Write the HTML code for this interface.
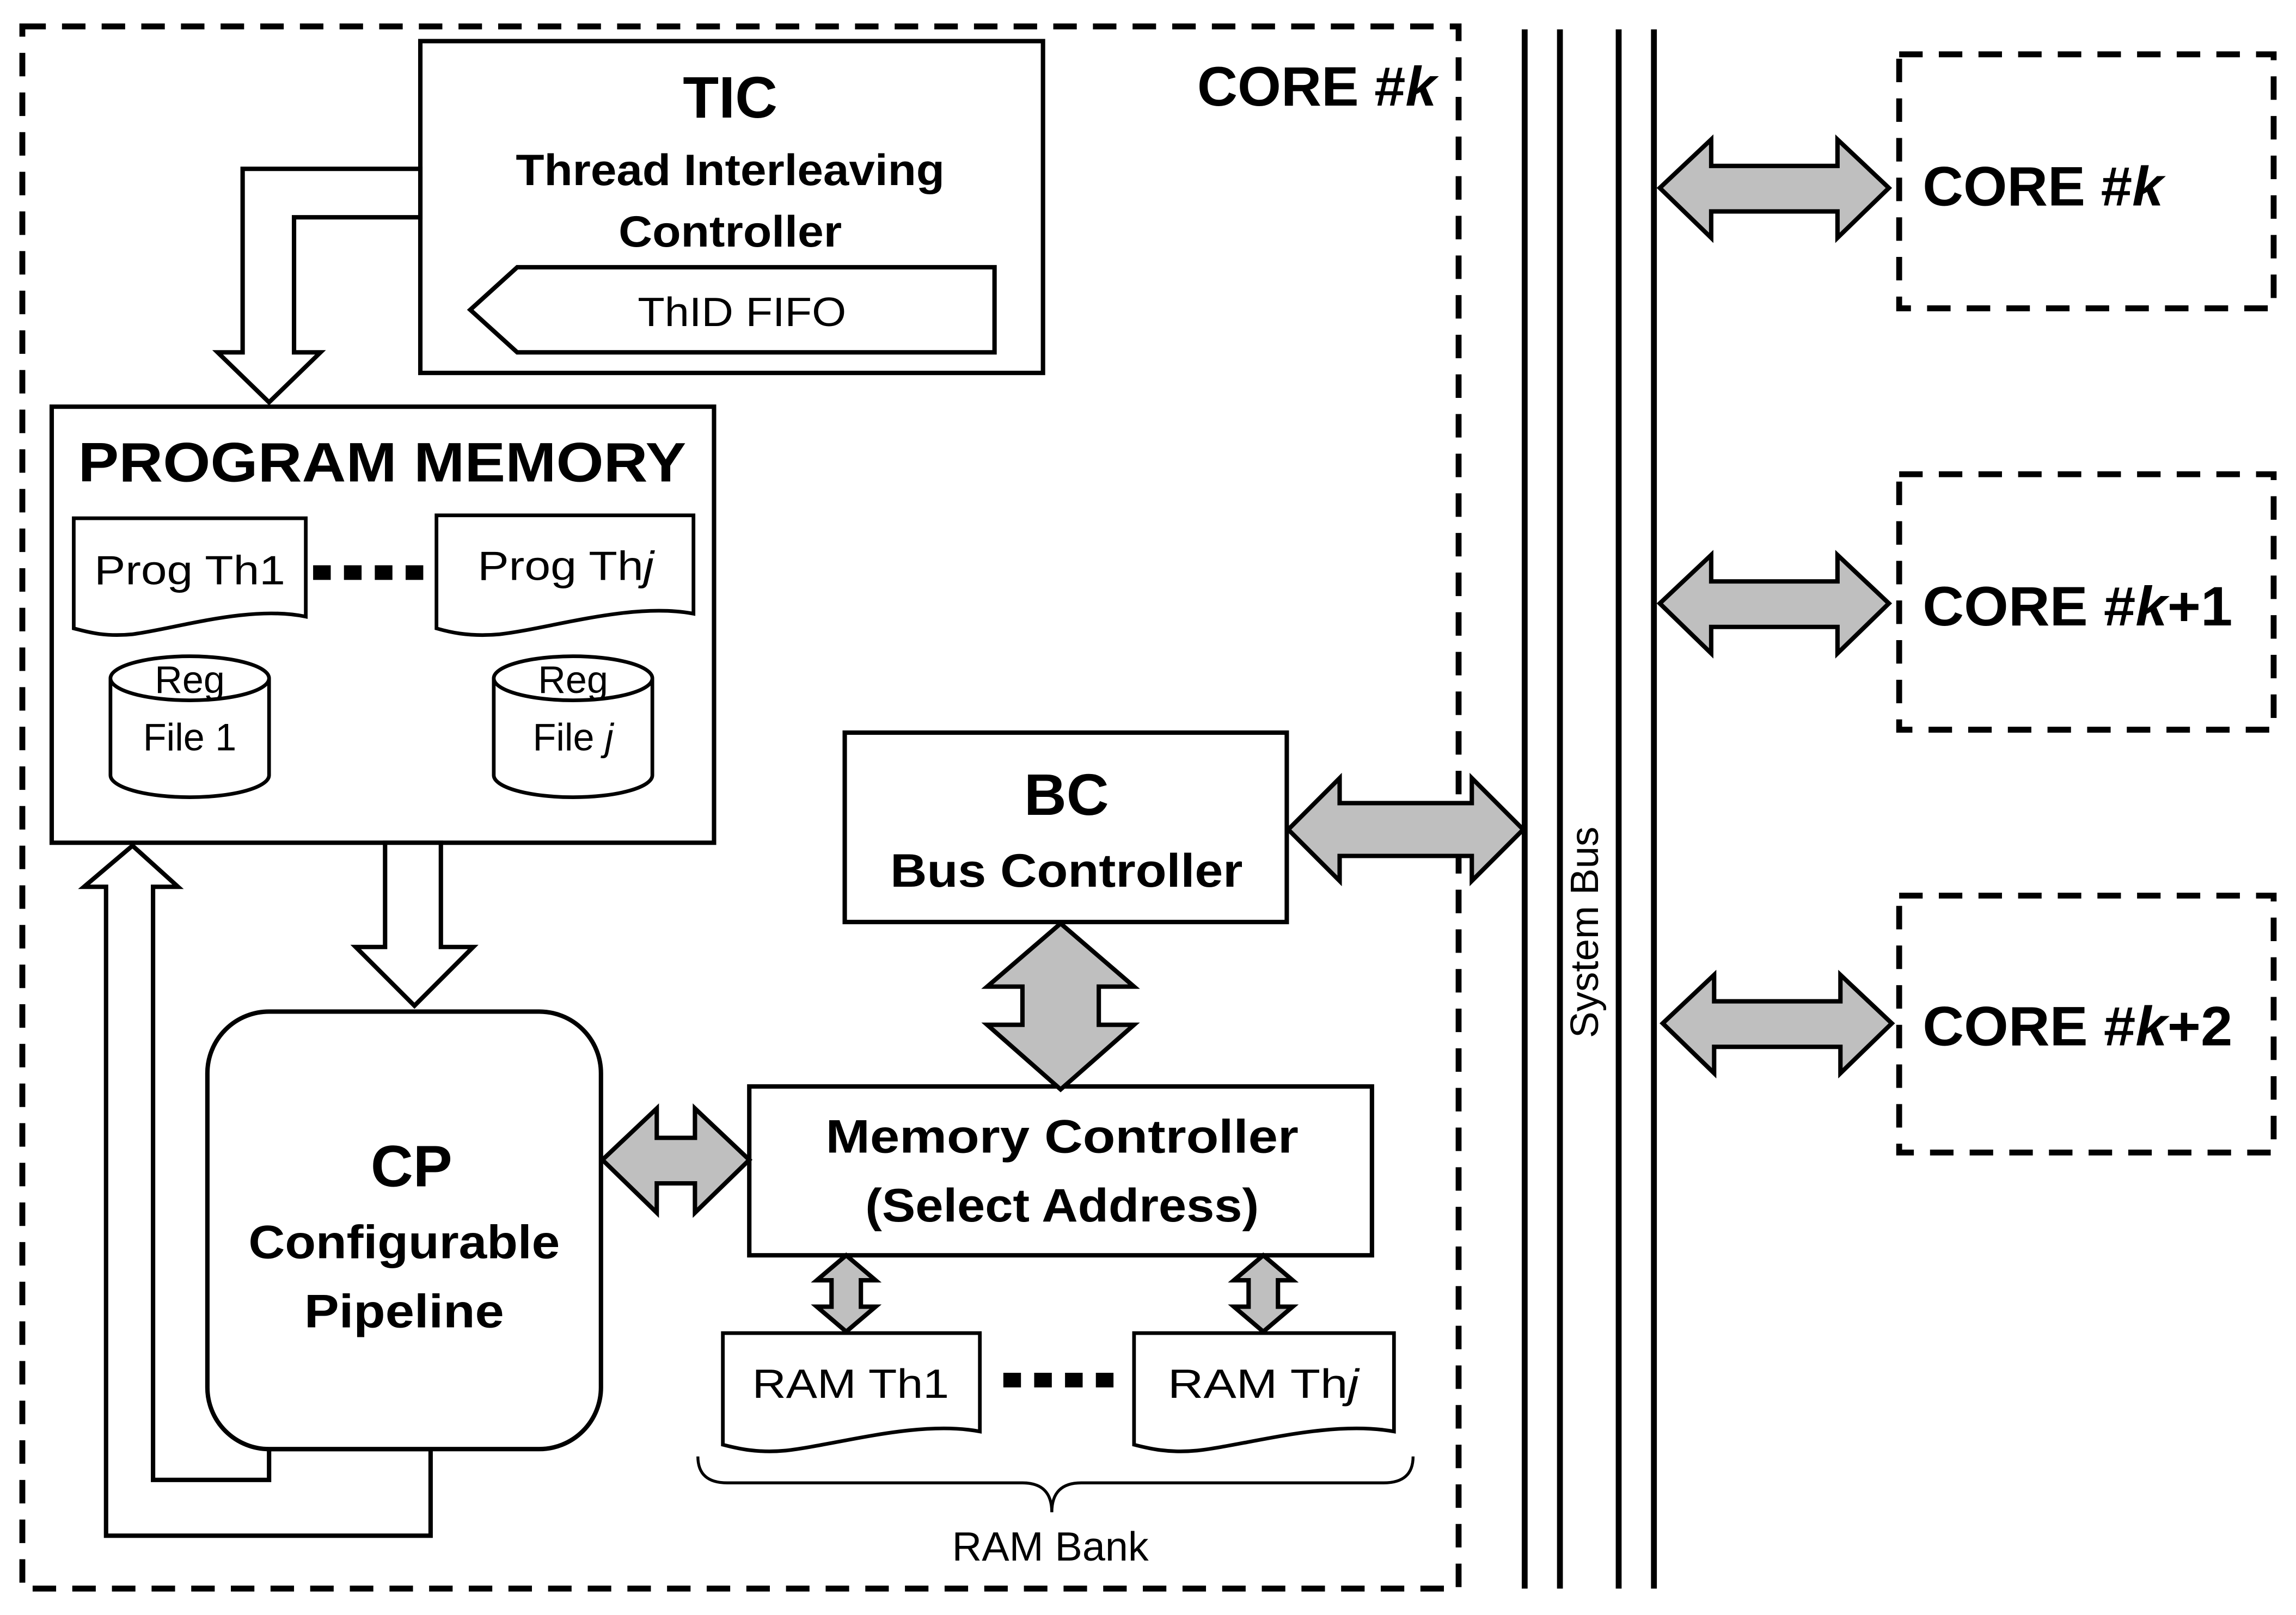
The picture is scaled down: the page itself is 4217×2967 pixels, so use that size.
<!DOCTYPE html>
<html><head><meta charset="utf-8"><style>
html,body{margin:0;padding:0;background:#fff;}
svg{display:block;}
text{font-family:"Liberation Sans",sans-serif;fill:#000;}
.b{font-weight:bold;}
</style></head><body>
<svg width="4217" height="2967" viewBox="0 0 1563 1100" xmlns="http://www.w3.org/2000/svg">
<rect width="1563" height="1100" fill="#fff"/>
<rect x="15" y="18" width="978" height="1064" fill="none" stroke="#000" stroke-width="4" stroke-dasharray="16,11"/>
<text x="815" y="72" class="b" font-size="38" textLength="163" lengthAdjust="spacingAndGlyphs">CORE #<tspan font-style="italic">k</tspan></text>

<rect x="286" y="28" width="424" height="226" fill="#fff" stroke="#000" stroke-width="3"/>
<text x="497" y="80" class="b" font-size="40" text-anchor="middle">TIC</text>
<text x="497" y="126" class="b" font-size="30" text-anchor="middle" textLength="292" lengthAdjust="spacingAndGlyphs">Thread Interleaving</text>
<text x="497" y="168" class="b" font-size="30" text-anchor="middle" textLength="152" lengthAdjust="spacingAndGlyphs">Controller</text>
<polygon points="320,211 352,182 677,182 677,240 352,240" fill="#fff" stroke="#000" stroke-width="3"/>
<text x="505" y="222" font-size="28" text-anchor="middle" textLength="142" lengthAdjust="spacingAndGlyphs">ThID FIFO</text>

<polygon points="286,115 165,115 165,240 148,240 183,274 218,240 200,240 200,148 286,148" fill="#fff" stroke="#000" stroke-width="3"/>

<rect x="35" y="277" width="451" height="297" fill="#fff" stroke="#000" stroke-width="3"/>
<text x="260" y="328" class="b" font-size="38" text-anchor="middle" textLength="414" lengthAdjust="spacingAndGlyphs">PROGRAM MEMORY</text>
<path d="M50,353 H208 V420 C170,412 120,428 90,432 C70,434 58,430 50,428 Z" fill="#fff" stroke="#000" stroke-width="2.5"/>
<text x="129" y="398" font-size="28" text-anchor="middle" textLength="130" lengthAdjust="spacingAndGlyphs">Prog Th1</text>
<path d="M297,351 H472 V418 C430,410 375,428 340,432 C318,434 304,430 297,428 Z" fill="#fff" stroke="#000" stroke-width="2.5"/>
<text x="385" y="395" font-size="28" text-anchor="middle" textLength="120" lengthAdjust="spacingAndGlyphs">Prog Th<tspan font-style="italic">j</tspan></text>
<line x1="213" y1="390" x2="293" y2="390" stroke="#000" stroke-width="10" stroke-dasharray="12,9"/>
<g fill="#fff" stroke="#000" stroke-width="2.5">
<path d="M75,462 V528 A54,15 0 0 0 183,528 V462"/>
<ellipse cx="129" cy="462" rx="54" ry="15"/>
<path d="M336,462 V528 A54,15 0 0 0 444,528 V462"/>
<ellipse cx="390" cy="462" rx="54" ry="15"/>
</g>
<text x="129" y="472" font-size="26" text-anchor="middle">Reg</text>
<text x="129" y="511" font-size="26" text-anchor="middle">File 1</text>
<text x="390" y="472" font-size="26" text-anchor="middle">Reg</text>
<text x="390" y="511" font-size="26" text-anchor="middle">File <tspan font-style="italic">j</tspan></text>

<polygon points="262,574 262,645 242,645 282,685 322,645 300,645 300,574" fill="#fff" stroke="#000" stroke-width="3"/>
<polygon points="293,987 293,1046 72,1046 72,604 57,604 90,576 121,604 104,604 104,1008 183,1008 183,987" fill="#fff" stroke="#000" stroke-width="3"/>

<rect x="141" y="689" width="268" height="298" rx="42" fill="#fff" stroke="#000" stroke-width="3"/>
<text x="280" y="808" class="b" font-size="40" text-anchor="middle">CP</text>
<text x="275" y="857" class="b" font-size="32" text-anchor="middle" textLength="212" lengthAdjust="spacingAndGlyphs">Configurable</text>
<text x="275" y="904" class="b" font-size="32" text-anchor="middle" textLength="136" lengthAdjust="spacingAndGlyphs">Pipeline</text>

<rect x="575" y="499" width="301" height="129" fill="#fff" stroke="#000" stroke-width="3"/>
<text x="726" y="555" class="b" font-size="40" text-anchor="middle">BC</text>
<text x="726" y="604" class="b" font-size="32" text-anchor="middle" textLength="240" lengthAdjust="spacingAndGlyphs">Bus Controller</text>

<rect x="510" y="740" width="424" height="115" fill="#fff" stroke="#000" stroke-width="3"/>
<text x="723" y="785" class="b" font-size="32" text-anchor="middle" textLength="322" lengthAdjust="spacingAndGlyphs">Memory Controller</text>
<text x="723" y="832" class="b" font-size="32" text-anchor="middle" textLength="268" lengthAdjust="spacingAndGlyphs">(Select Address)</text>

<g fill="#bfbfbf" stroke="#000" stroke-width="3">
<polygon points="877,565 912,530 912,547 1002,547 1002,530 1037,565 1002,600 1002,583 912,583 912,600"/>
<polygon points="722,629 772,672 748,672 748,698 772,698 722,742 672,698 696,698 696,672 672,672"/>
<polygon points="410,790 447,755 447,775 473,775 473,755 510,790 473,826 473,806 447,806 447,826"/>
<polygon points="576,855 596,872 586,872 586,890 596,890 576,907 556,890 566,890 566,872 556,872"/>
<polygon points="860,855 880,872 870,872 870,890 880,890 860,907 840,890 850,890 850,872 840,872"/>
<polygon points="1130,128 1165,95 1165,113 1251,113 1251,95 1286,128 1251,162 1251,144 1165,144 1165,162"/>
<polygon points="1130,411 1165,378 1165,396 1251,396 1251,378 1286,411 1251,445 1251,427 1165,427 1165,445"/>
<polygon points="1132,697 1167,664 1167,682 1253,682 1253,664 1288,697 1253,731 1253,713 1167,713 1167,731"/>
</g>

<path d="M492,908 H667 V975 C625,967 570,984 535,988 C514,990 500,986 492,984 Z" fill="#fff" stroke="#000" stroke-width="2.5"/>
<text x="579" y="952" font-size="28" text-anchor="middle" textLength="134" lengthAdjust="spacingAndGlyphs">RAM Th1</text>
<path d="M772,908 H949 V975 C905,967 850,984 815,988 C794,990 780,986 772,984 Z" fill="#fff" stroke="#000" stroke-width="2.5"/>
<text x="860" y="952" font-size="28" text-anchor="middle" textLength="130" lengthAdjust="spacingAndGlyphs">RAM Th<tspan font-style="italic">j</tspan></text>
<line x1="683" y1="940" x2="763" y2="940" stroke="#000" stroke-width="10" stroke-dasharray="12,9"/>
<path d="M475,992 Q475,1010 495,1010 H696 Q716,1010 716,1030 Q716,1010 736,1010 H942 Q962,1010 962,992" fill="none" stroke="#000" stroke-width="2"/>
<text x="715" y="1063" font-size="28" text-anchor="middle">RAM Bank</text>

<g stroke="#000" stroke-width="4">
<line x1="1038" y1="20" x2="1038" y2="1082"/>
<line x1="1062" y1="20" x2="1062" y2="1082"/>
<line x1="1102" y1="20" x2="1102" y2="1082"/>
<line x1="1126" y1="20" x2="1126" y2="1082"/>
</g>
<text transform="translate(1088,635) rotate(-90)" font-size="27" text-anchor="middle">System Bus</text>

<g fill="none" stroke="#000" stroke-width="4" stroke-dasharray="16,11">
<rect x="1293" y="37" width="255" height="173"/>
<rect x="1293" y="323" width="255" height="174"/>
<rect x="1293" y="610" width="255" height="175"/>
</g>
<text x="1309" y="140" class="b" font-size="38" textLength="164" lengthAdjust="spacingAndGlyphs">CORE #<tspan font-style="italic">k</tspan></text>
<text x="1309" y="426" class="b" font-size="38" textLength="211" lengthAdjust="spacingAndGlyphs">CORE #<tspan font-style="italic">k</tspan>+1</text>
<text x="1309" y="712" class="b" font-size="38" textLength="211" lengthAdjust="spacingAndGlyphs">CORE #<tspan font-style="italic">k</tspan>+2</text>
</svg>
</body></html>
